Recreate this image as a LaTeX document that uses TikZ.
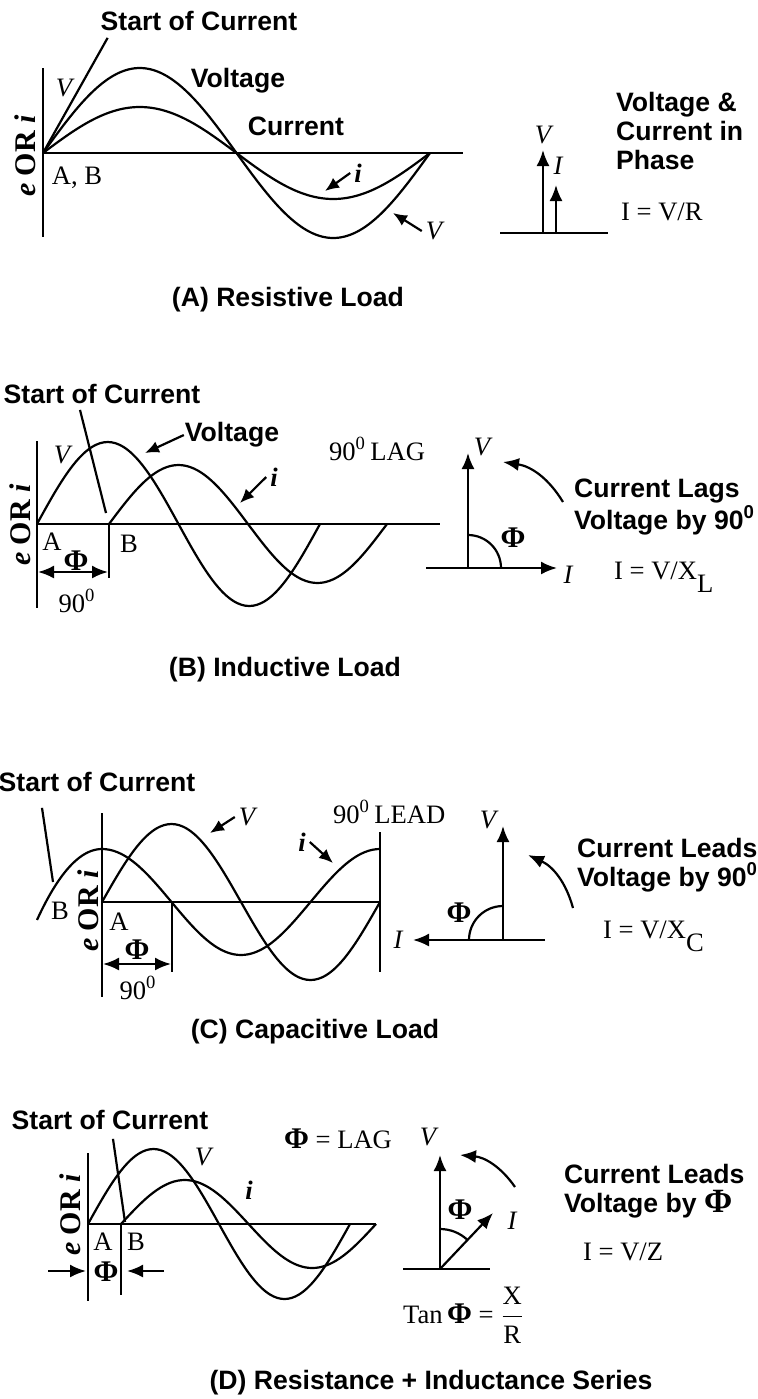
\documentclass[tikz,border=0pt]{standalone}
\usepackage{amsmath}
\usepackage{fontspec}
\setmainfont{Liberation Serif}
\setsansfont{Liberation Sans}
\usetikzlibrary{arrows.meta}
\newcommand{\axtext}{\textit{e} OR \textit{i}}
\newcommand{\zsup}{\textsuperscript{0}}
\newcommand{\phig}{{\rmfamily\bfseries\fontsize{15}{15}\selectfont Φ}}

\begin{document}
\begin{tikzpicture}[x=0.5pt,y=-0.5pt,line width=1.1pt,
 hdr/.style={font=\sffamily\bfseries\fontsize{13.3}{14.5}\selectfont,inner sep=0pt},
 lbl/.style={font=\fontsize{13.3}{14.5}\selectfont,inner sep=0pt},
 ital/.style={font=\itshape\fontsize{13.3}{14.5}\selectfont,inner sep=1.5pt},
 itbf/.style={font=\bfseries\itshape\fontsize{13.3}{14.5}\selectfont,inner sep=1.5pt},
 eori/.style={font=\bfseries\fontsize{15}{16}\selectfont,rotate=90,inner sep=0pt},
 tip/.style={-{Latex[length=8pt,width=6.5pt]}},
 ptr/.style={-{Latex[length=7pt,width=6pt]}},
 both/.style={{Latex[length=8pt,width=6.5pt]}-{Latex[length=8pt,width=6.5pt]}}]
 \useasboundingbox (0,0) rectangle (758,1399);
 \begin{scope}
  \draw (43,68) -- (43,237);
  \draw (43,153) -- (463,153);
  \foreach \a in {85,46}
   \draw plot[domain=0:360,samples=73,smooth] ({43+\x/360*387},{153-\a*sin(\x)});
  \node[hdr] (socA) at (199,21) {Start of Current};
  \draw ([shift={(8,6)}]socA.south west) -- (43,153);
  \node[ital] (vA) at (64,88) {V};
  \node[hdr] (voltA) at (238,81) {Voltage};
  \node[hdr] (curA) at (296,126) {Current};
  \node[lbl] (abA) at (77,178) {A, B};
  \node[eori] (eoriA) at (25,156) {\axtext};
  \node[itbf] (iA) at (358,173) {i};
  \coordinate (iAp) at (325,191);
  \draw[ptr] (iA.west) -- (iAp);
  \node[ital] (vA2) at (434,231) {V};
  \coordinate (vAp) at (393,213);
  \draw[ptr] (vA2.west) -- (vAp);
  \coordinate (oA) at (543,233);
  \draw (500,233) -- (608,233);
  \draw[tip] (oA) -- (543,150);
  \draw[tip] (556,233) -- (556,185);
  \node[ital] (pvA) at (543,135) {V};
  \node[ital] (piA) at (558,166) {I};
  \node[hdr,align=left,anchor=west] (phA) at (615,131) {Voltage \&\\Current in\\Phase};
  \node[lbl,anchor=west] (ohmA) at (620,212) {I = V/R};
  \node[hdr] (ttlA) at (288,300) {(A) Resistive Load};
 \end{scope}
 \begin{scope}
  \draw (37,441) -- (37,608);
  \draw (37,524) -- (440,524);
  \draw plot[domain=0:360,samples=73,smooth] ({37+\x/360*283},{524-82*sin(\x)});
  \draw plot[domain=0:360,samples=73,smooth] ({109+\x/360*278},{524-59*sin(\x)});
  \draw (109,524) -- (109,578);
  \draw[both] (38,572) -- (108,572);
  \node[hdr] (socB) at (102,394) {Start of Current};
  \draw ([shift={(-22,5)}]socB.south) -- (106,513);
  \node[ital] (vB) at (62,455) {V};
  \node[hdr] (voltB) at (232,435) {Voltage};
  \coordinate (voltBp) at (145,453);
  \draw[ptr] (voltB.west) -- (voltBp);
  \node[lbl,anchor=west] (lagB) at (328,449) {90\zsup\,LAG};
  \node[itbf] (iB) at (274,477) {i};
  \coordinate (iBp) at (240,503);
  \draw[ptr] (iB.west) -- (iBp);
  \node[lbl] (aB) at (52,542) {A};
  \node[lbl] (bB) at (129,544) {B};
  \node[lbl] (phiB) at (76,561) {\phig};
  \node[lbl] (degB) at (77,601) {90\zsup};
  \node[eori] (eoriB) at (20,525) {\axtext};
  \coordinate (oB) at (468,568);
  \draw[tip] (426,568) -- (557,568);
  \draw[tip] (oB) -- (468,453);
  \draw (468,535) arc[start angle=-90,end angle=0,radius=33];
  \node[lbl] (pphiB) at (513,538) {\phig};
  \node[ital] (pvB) at (482,447) {V};
  \node[ital] (piB) at (568,575) {I};
  \draw[tip] (563,502) to[bend right=25] (503,462);
  \node[hdr,align=left,anchor=west] (lagtB) at (573,507) {Current Lags\\Voltage by 90\zsup};
  \node[lbl,anchor=base west] (ohmB) at (613,579) {I = V/X\raisebox{-0.5em}{L}};
  \node[hdr] (ttlB) at (285,670) {(B) Inductive Load};
 \end{scope}
 \begin{scope}
  \draw (102,813) -- (102,997);
  \draw (102,902) -- (380,902);
  \draw (380,832) -- (380,972);
  \draw (172,902) -- (172,972);
  \draw plot[domain=0:360,samples=73,smooth] ({102+\x/360*278},{902-78*sin(\x)});
  \draw plot[domain=0:360,samples=73,smooth] ({102+\x/360*278},{902-53*cos(\x)});
  \draw plot[domain=0:65,samples=27,smooth] ({102-\x},{849+0.0168*\x*\x});
  \draw[both] (103,964) -- (171,964);
  \node[hdr] (socC) at (97,782) {Start of Current};
  \draw ([shift={(-55,15)}]socC.south) -- (53,882);
  \node[lbl] (bC) at (60,911) {B};
  \node[lbl] (aC) at (119,922) {A};
  \node[eori] (eoriC) at (88,911) {\axtext};
  \node[lbl] (phiC) at (137,950) {\phig};
  \node[lbl] (degC) at (138,988) {90\zsup};
  \node[ital] (vC) at (247,817) {V};
  \coordinate (vCp) at (210,833);
  \draw[ptr] (vC.west) -- (vCp);
  \node[itbf] (iC) at (302,842) {i};
  \coordinate (iCp) at (333,863);
  \draw[ptr] (iC.east) -- (iCp);
  \node[lbl,anchor=west] (leadC) at (332,812) {90\zsup\,LEAD};
  \coordinate (oC) at (503,940);
  \draw[tip] (545,940) -- (413,940);
  \draw[tip] (oC) -- (503,826);
  \draw (503,906) arc[start angle=-90,end angle=-180,radius=34];
  \node[lbl] (pphiC) at (459,913) {\phig};
  \node[ital] (pvC) at (488,820) {V};
  \node[ital] (piC) at (398,940) {I};
  \draw[tip] (573,908) to[bend right=25] (528,855);
  \node[hdr,align=left,anchor=west] (leadtC) at (576,865) {Current Leads\\Voltage by 90\zsup};
  \node[lbl,anchor=base west] (ohmC) at (602,938) {I = V/X\raisebox{-0.5em}{C}};
  \node[hdr] (ttlC) at (315,1032) {(C) Capacitive Load};
 \end{scope}
 \begin{scope}
  \draw (88,1153) -- (88,1301);
  \draw (88,1224) -- (376,1224);
  \draw (121,1224) -- (121,1295);
  \draw plot[domain=0:360,samples=73,smooth] ({88+\x/360*262},{1224-75*sin(\x)});
  \draw plot[domain=0:360,samples=73,smooth] ({121+\x/360*255},{1224-44*sin(\x)});
  \draw[tip] (48,1271) -- (86,1271);
  \draw[tip] (164,1271) -- (127,1271);
  \node[hdr] (socD) at (110,1120) {Start of Current};
  \draw ([shift={(3,8)}]socD.south) -- (125,1222);
  \node[ital] (vD) at (203,1157) {V};
  \node[itbf] (iD) at (249,1190) {i};
  \node[eori] (eoriD) at (70,1215) {\axtext};
  \node[lbl] (aD) at (103,1242) {A};
  \node[lbl] (bD) at (136,1242) {B};
  \node[lbl] (phiD) at (106,1272) {\phig};
  \node[lbl,anchor=west] (lagD) at (283,1139) {\phig\ = LAG};
  \coordinate (oD) at (440,1269);
  \draw (403,1269) -- (490,1269);
  \draw[tip] (oD) -- (440,1155);
  \draw[tip] (oD) -- (493,1213);
  \draw (440,1229) arc[start angle=-90,end angle=-46.6,radius=40];
  \node[lbl] (pphiD) at (460,1210) {\phig};
  \node[ital] (piD) at (512,1221) {I};
  \node[ital] (pvD) at (428,1137) {V};
  \draw[tip] (515,1187) to[bend right=25] (460,1155);
  \node[hdr,align=left,anchor=west] (leadtD) at (563,1191) {Current Leads\\Voltage by {\rmfamily\fontsize{17}{17}\selectfont Φ}};
  \node[lbl,anchor=west] (ohmD) at (582,1252) {I = V/Z};
  \node[lbl,anchor=west] (tanD) at (402,1315) {Tan\,\phig\ = $\dfrac{\text{X}}{\text{R}}$};
  \node[hdr] (ttlD) at (431,1383) {(D) Resistance + Inductance Series};
 \end{scope}
\end{tikzpicture}
\end{document}
